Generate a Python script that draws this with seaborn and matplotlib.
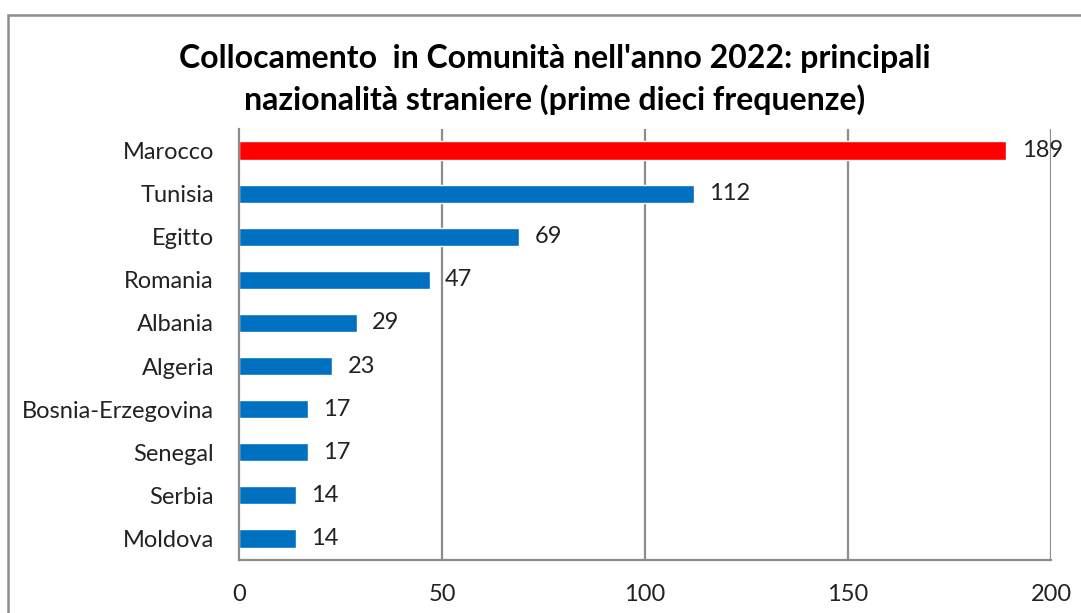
import matplotlib
matplotlib.use("Agg")
import matplotlib.pyplot as plt
import seaborn as sns
import pandas as pd
import numpy as np
from matplotlib.patches import Rectangle

countries = ["Marocco", "Tunisia", "Egitto", "Romania", "Albania", "Algeria",
             "Bosnia-Erzegovina", "Senegal", "Serbia", "Moldova"]
values = [189, 112, 69, 47, 29, 23, 17, 17, 14, 14]
bar_colors = ["#FF0000"] + ["#0070C0"] * 9
xticks = [0, 50, 100, 150, 200]
title = "Collocamento  in Comunità nell'anno 2022: principali\nnazionalità straniere (prime dieci frequenze)"

sns.set_theme(style="white")
plt.rcParams['font.family'] = ['Lato', 'DejaVu Sans']

df = pd.DataFrame({"country": countries, "value": values})

fig = plt.figure(figsize=(10.81, 6.13), dpi=100)
ax = fig.add_axes([239/1081, 1 - 560/613, (1051 - 239)/1081, (560 - 129)/613])

sns.barplot(data=df, x="value", y="country", hue="country",
            palette=dict(zip(countries, bar_colors)), legend=False,
            orient="h", width=0.42, ax=ax, saturation=1)

grid_c = "#8C8C8C"
ax.set_xlim(0, 200)
ax.set_ylim(len(countries) - 0.5, -0.5)
ax.set_xticks(xticks)
ax.set_xticklabels([str(t) for t in xticks], fontsize=17, color="#222222")
ax.set_xlabel("")
ax.set_ylabel("")
ax.tick_params(axis="y", which="major", length=0, pad=18, labelsize=17, labelcolor="#222222")
ax.set_yticks(np.arange(-0.5, len(countries), 1.0), minor=True)
ax.tick_params(axis="y", which="minor", length=6, width=1.3, color=grid_c, direction="out")
ax.tick_params(axis="x", length=8, width=1.3, color=grid_c, direction="out", pad=9)

for t in xticks[1:]:
    ax.axvline(t, color=grid_c, lw=1.6, zorder=0)
for s in ["top", "right"]:
    ax.spines[s].set_visible(False)
for s in ["left", "bottom"]:
    ax.spines[s].set_color(grid_c)
    ax.spines[s].set_linewidth(1.6)

for cont in ax.containers:
    ax.bar_label(cont, padding=11, fontsize=17, color="#222222")

fig.text(0.513, 1 - 79.5/613, title, ha="center", va="center", fontsize=23,
         fontweight="bold", linespacing=1.42, color="#000000")

fig.patches.append(Rectangle((8/1081, -0.1), 1.2, 1 - 15/613 + 0.1,
                             transform=fig.transFigure, fill=False,
                             edgecolor="#8C8C8C", lw=1.8))

fig.savefig("out.png", dpi=100, facecolor="white")
